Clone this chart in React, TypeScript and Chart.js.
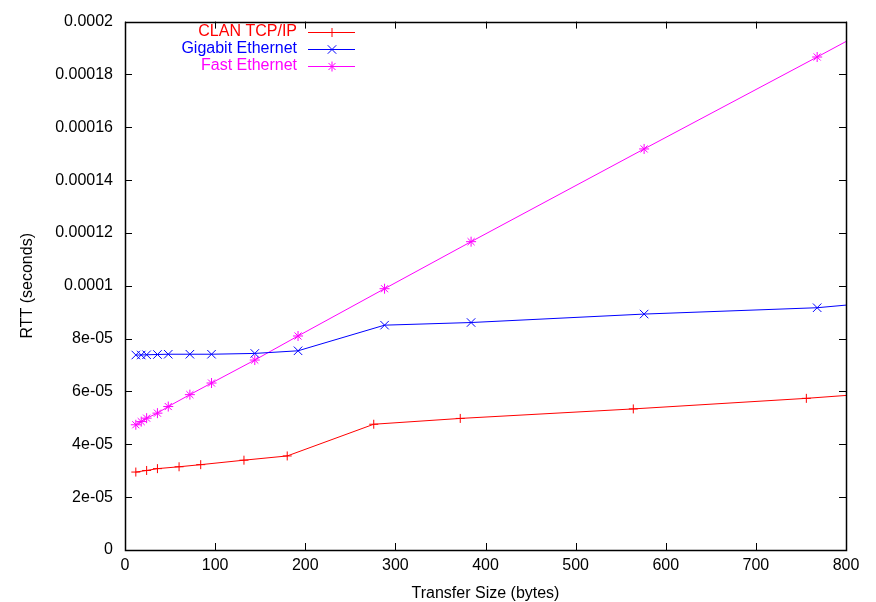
import React, { useEffect, useRef } from "react";
import { Chart, registerables } from "chart.js";

Chart.register(...registerables);

const seriesNames = ["CLAN TCP/IP", "Gigabit Ethernet", "Fast Ethernet"];
const seriesColors = ["#ff0000", "#0000ff", "#ff00ff"];

const clanX = [12, 24, 36, 60, 84, 132, 180, 276, 372, 564, 756, 1140];
const clanY = [2.95e-5, 3.01e-5, 3.08e-5, 3.15e-5, 3.23e-5, 3.4e-5, 3.56e-5, 4.76e-5, 4.98e-5, 5.34e-5, 5.74e-5, 6.7e-5];

const gigX = [12, 18, 24, 36, 48, 72, 96, 144, 192, 288, 384, 576, 768, 1152];
const gigY = [7.38e-5, 7.38e-5, 7.39e-5, 7.4e-5, 7.41e-5, 7.41e-5, 7.41e-5, 7.44e-5, 7.54e-5, 8.51e-5, 8.61e-5, 8.93e-5, 9.17e-5, 10.36e-5];

const fastX = [12, 18, 24, 36, 48, 72, 96, 144, 192, 288, 384, 576, 768, 1152];
const fastY = [4.74e-5, 4.86e-5, 4.99e-5, 5.18e-5, 5.43e-5, 5.88e-5, 6.32e-5, 7.19e-5, 8.1e-5, 9.89e-5, 11.67e-5, 15.18e-5, 18.66e-5, 25.7e-5];

const xTickValues = [0, 100, 200, 300, 400, 500, 600, 700, 800];
const yTickValues = [0, 2e-5, 4e-5, 6e-5, 8e-5, 1e-4, 1.2e-4, 1.4e-4, 1.6e-4, 1.8e-4, 2e-4];
const yTickLabels = ["0", "2e-05", "4e-05", "6e-05", "8e-05", "0.0001", "0.00012", "0.00014", "0.00016", "0.00018", "0.0002"];

const FONT = "'Liberation Sans', Arial, Helvetica, sans-serif";

function toPoints(xs: number[], ys: number[]) {
  return xs.map((x, i) => ({ x, y: ys[i] }));
}

const markerStyles: any[] = ["cross", "crossRot", "star"];
const markerRadii = [4.5, 6, 5];

function drawMarker(ctx: CanvasRenderingContext2D, style: string, x: number, y: number, r: number) {
  ctx.beginPath();
  const d = r * Math.SQRT1_2;
  if (style === "cross" || style === "star") {
    ctx.moveTo(x - r, y);
    ctx.lineTo(x + r, y);
    ctx.moveTo(x, y - r);
    ctx.lineTo(x, y + r);
  }
  if (style === "crossRot" || style === "star") {
    ctx.moveTo(x - d, y - d);
    ctx.lineTo(x + d, y + d);
    ctx.moveTo(x - d, y + d);
    ctx.lineTo(x + d, y - d);
  }
  ctx.stroke();
}

const framePlugin = {
  id: "gnuplotFrame",
  afterDatasetsDraw(chart: any) {
    const { ctx, chartArea } = chart;
    const { left, right, top, bottom } = chartArea;
    const xs = chart.scales.x;
    const ys = chart.scales.y;
    const tl = 7;
    ctx.save();
    ctx.strokeStyle = "#000000";
    ctx.lineWidth = 1;
    ctx.beginPath();
    xTickValues.forEach((v) => {
      const px = Math.round(xs.getPixelForValue(v)) + 0.5;
      ctx.moveTo(px, bottom);
      ctx.lineTo(px, bottom - tl);
      ctx.moveTo(px, top);
      ctx.lineTo(px, top + tl);
    });
    yTickValues.forEach((v) => {
      const py = Math.round(ys.getPixelForValue(v)) + 0.5;
      ctx.moveTo(left, py);
      ctx.lineTo(left + tl, py);
      ctx.moveTo(right, py);
      ctx.lineTo(right - tl, py);
    });
    ctx.stroke();
    ctx.lineWidth = 1.5;
    ctx.strokeRect(Math.round(left) + 0.5, Math.round(top) + 0.5, Math.round(right - left), Math.round(bottom - top));

    // legend
    ctx.font = `16px ${FONT}`;
    ctx.textAlign = "right";
    ctx.textBaseline = "middle";
    const rowY = [31.5, 48.5, 65.5];
    seriesNames.forEach((name, i) => {
      const y = rowY[i];
      ctx.fillStyle = seriesColors[i];
      ctx.fillText(name, 297, y);
      ctx.strokeStyle = seriesColors[i];
      ctx.lineWidth = 1;
      ctx.beginPath();
      ctx.moveTo(308, Math.round(y) + 0.5);
      ctx.lineTo(355, Math.round(y) + 0.5);
      ctx.stroke();
      drawMarker(ctx, markerStyles[i], 332, Math.round(y) + 0.5, markerRadii[i]);
    });
    ctx.restore();
  },
};

export default function App() {
  const canvasRef = useRef<HTMLCanvasElement | null>(null);

  useEffect(() => {
    document.body.style.margin = "0";
    const canvas = canvasRef.current;
    if (!canvas) return;
    const datasets = [
      toPoints(clanX, clanY),
      toPoints(gigX, gigY),
      toPoints(fastX, fastY),
    ].map((data, i) => ({
      label: seriesNames[i],
      data,
      borderColor: seriesColors[i],
      backgroundColor: seriesColors[i],
      borderWidth: 1,
      pointStyle: markerStyles[i],
      pointRadius: markerRadii[i],
      pointBorderWidth: 1,
      pointBorderColor: seriesColors[i],
      pointHoverRadius: markerRadii[i],
      tension: 0,
      fill: false,
    }));

    const chart = new Chart(canvas, {
      type: "line",
      data: { datasets },
      options: {
        responsive: false,
        animation: false,
        devicePixelRatio: 1,
        events: [],
        layout: { padding: { top: 17, right: 30, left: 0, bottom: 0 } },
        plugins: {
          legend: { display: false },
          tooltip: { enabled: false },
        },
        scales: {
          x: {
            type: "linear",
            min: 0,
            max: 800,
            afterFit: (s: any) => {
              s.height = 52;
            },
            afterBuildTicks: (s: any) => {
              s.ticks = xTickValues.map((v) => ({ value: v }));
            },
            ticks: {
              color: "#000000",
              font: { family: FONT, size: 16 },
              padding: 6,
              maxRotation: 0,
              autoSkip: false,
              callback: (v: any) => String(v),
            },
            grid: { display: false, drawTicks: false },
            border: { display: false },
            title: {
              display: true,
              text: "Transfer Size (bytes)",
              color: "#000000",
              font: { family: FONT, size: 16 },
              padding: { top: 0, bottom: -1 },
            },
          },
          y: {
            type: "linear",
            min: 0,
            max: 0.0002,
            afterFit: (s: any) => {
              s.width = 125;
            },
            afterBuildTicks: (s: any) => {
              s.ticks = yTickValues.map((v) => ({ value: v }));
            },
            ticks: {
              color: "#000000",
              font: { family: FONT, size: 16 },
              padding: 12,
              autoSkip: false,
              callback: (_v: any, i: number) => yTickLabels[i],
            },
            grid: { display: false, drawTicks: false },
            border: { display: false },
            title: {
              display: true,
              text: "RTT (seconds)",
              color: "#000000",
              font: { family: FONT, size: 16 },
              padding: { top: 18, bottom: 0 },
            },
          },
        },
      },
      plugins: [framePlugin],
    } as any);

    return () => {
      chart.destroy();
    };
  }, []);

  return (
    <div style={{ position: "absolute", left: 0, top: 0, width: 876, height: 602, background: "#ffffff" }}>
      <canvas ref={canvasRef} width={876} height={602} style={{ display: "block", width: 876, height: 602 }} />
    </div>
  );
}
